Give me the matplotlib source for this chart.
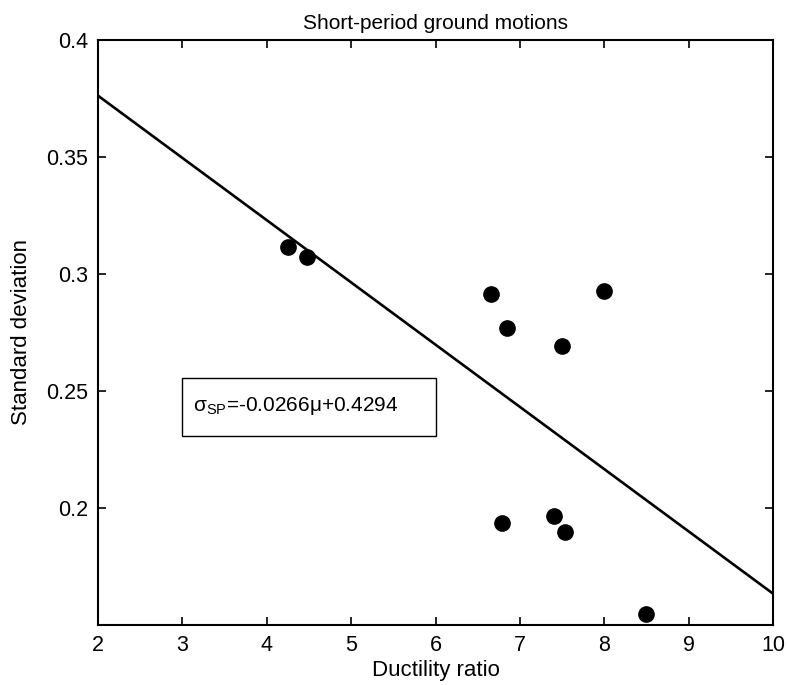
import numpy as np
import matplotlib
matplotlib.use("Agg")
import matplotlib.pyplot as plt
from matplotlib.patches import Rectangle

plt.rcParams['font.family'] = ['Liberation Sans', 'DejaVu Sans']
plt.rcParams['mathtext.fontset'] = 'custom'
plt.rcParams['mathtext.rm'] = 'Liberation Sans'
plt.rcParams['mathtext.it'] = 'Liberation Sans:italic'

# data
ductility = [4.25, 4.48, 6.66, 6.85, 8.0, 7.50, 6.79, 7.40, 7.54, 8.49]
std_dev = [0.3117, 0.3074, 0.2913, 0.2771, 0.2927, 0.2692, 0.1935, 0.1967, 0.1897, 0.1547]

# regression line sigma = -0.0266*mu + 0.4294, ends at mu = 2 and 10
fit_x = [2, 10]
fit_y = [0.3762, 0.1634]

fig = plt.figure(figsize=(7.88, 6.85), dpi=100)
ax = fig.add_axes([0.1244, 0.0876, 0.8566, 0.854])

ax.plot(fit_x, fit_y, 'k-', lw=1.9)
ax.plot(ductility, std_dev, 'ko', ms=11)

# equation box
ax.add_patch(Rectangle((3.0, 0.2309), 3.01, 0.0245, fill=False, ec='k', lw=1.0))
ax.text(3.13, 0.2438, r'$\mathrm{σ_{SP}}$=-0.0266μ+0.4294', fontsize=15, va='center')

ax.set_xlim(2, 10)
ax.set_ylim(0.15, 0.4)
ax.set_xticks(np.arange(2, 11, 1))
ax.set_yticks([0.2, 0.25, 0.3, 0.35, 0.4])
ax.set_yticklabels(['0.2', '0.25', '0.3', '0.35', '0.4'])
ax.tick_params(direction='in', length=6, width=1.2, top=True, right=True, labelsize=15.5, pad=7)
for s in ax.spines.values():
    s.set_linewidth(1.5)

ax.set_title('Short-period ground motions', fontsize=15, pad=8)
ax.set_xlabel('Ductility ratio', fontsize=16, labelpad=3)
ax.set_ylabel('Standard deviation', fontsize=16, labelpad=10)

fig.savefig('out.png', dpi=100)
